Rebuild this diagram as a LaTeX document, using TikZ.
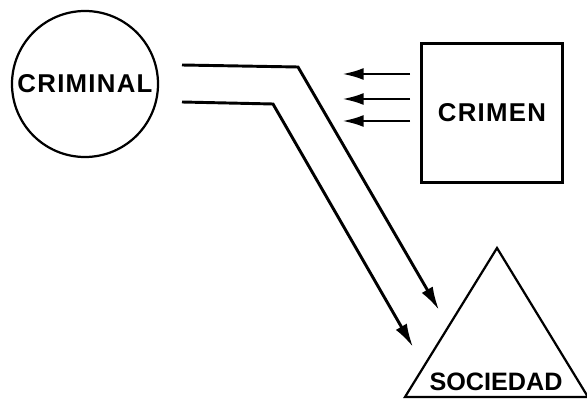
\documentclass[tikz,border=0pt]{standalone}
\usepackage{fontspec}
\newfontfamily\signfont[LetterSpace=5]{Liberation Sans}
\newfontfamily\tightfont{Liberation Sans}
\usepackage{tikz}
\usetikzlibrary{
    arrows.meta,
    positioning,
    calc
}
\tikzset{
    actor/.style={
        draw,
        circle,
        line width=1.9pt,
        minimum size=43.8mm,
        inner sep=0pt,
        font=\signfont\bfseries\fontsize{22}{22}\selectfont
    }
}
\tikzset{
    deed/.style={
        draw,
        line width=1.9pt,
        minimum width=42.3mm,
        minimum height=41.7mm,
        inner sep=0pt,
        font=\signfont\bfseries\fontsize{22}{22}\selectfont
    }
}
\tikzset{
    group/.style={
        draw,
        line width=1.9pt,
        line join=miter
    }
}
\tikzset{
    grouplabel/.style={
        inner sep=0pt,
        font=\tightfont\bfseries\fontsize{21.5}{21.5}\selectfont
    }
}
\tikzset{
    flow/.style={
        draw,
        line width=2.5pt,
        -{Latex[length=7mm,width=3.8mm]}
    }
}
\tikzset{
    pushback/.style={
        draw,
        line width=2.5pt,
        -{Latex[length=6.5mm,width=3.6mm]}
    }
}

\begin{document}
\begin{tikzpicture}[
    x=0.03cm,
    y=-0.03cm
]
\useasboundingbox (0,0) rectangle (587,400);

\node[actor] (criminal) at (85,84) {CRIMINAL};
\node[deed] (crimen) at (492,113) {CRIMEN};

% sociedad
\coordinate (apex) at (497,248);
\coordinate (baseleft) at (405,397);
\coordinate (baseright) at (588,397);
\draw[group] (apex) -- (baseleft) -- (baseright) -- cycle;
\node[grouplabel] (sociedad) at (496,382) {SOCIEDAD};

% criminal towards sociedad
\coordinate (startup) at (182,65);
\coordinate (bendup) at (298,67);
\coordinate (endup) at (439,310);
\coordinate (startlow) at (182,102);
\coordinate (bendlow) at (273,104);
\coordinate (endlow) at (413,347);
\draw[flow] (startup) -- (bendup) -- (endup);
\draw[flow] (startlow) -- (bendlow) -- (endlow);

% crimen back towards criminal
\foreach \y [count=\i] in {74,99,121} {
    \coordinate (back\i) at (410,\y);
    \coordinate (tip\i) at (342,\y);
    \draw[pushback] (back\i) -- (tip\i);
}

\end{tikzpicture}
\end{document}
